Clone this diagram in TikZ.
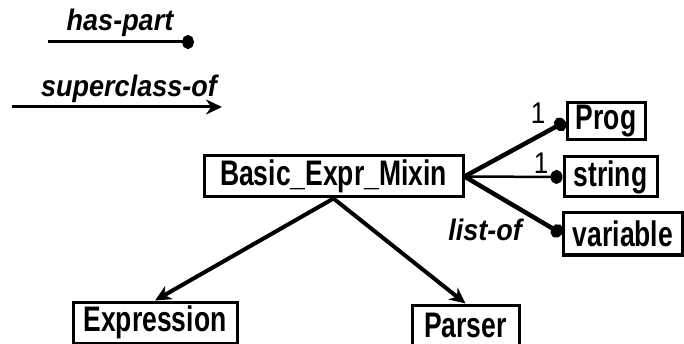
\documentclass[tikz,border=0pt]{standalone}
\usepackage{fontspec}
\setmainfont{Liberation Sans}
\usetikzlibrary{arrows.meta}
% class names are set in a tall, narrow style
\newcommand{\tallname}[1]{\scalebox{1}[1.34]{#1}}
\begin{document}
\begin{tikzpicture}[x=1pt,y=-1pt,
  classbox/.style={draw, line width=3pt, inner sep=0pt,
    font=\fontsize{26.5}{28}\selectfont\bfseries},
  partof/.style={line width=4.5pt, -{Circle[length=12pt,width=14pt]}},
  isa/.style={line width=4pt, -{Stealth[length=16pt,width=15pt]}},
  rolelabel/.style={font=\fontsize{27}{29}\selectfont\bfseries\itshape, inner sep=0pt},
  card/.style={font=\fontsize{26}{28}\selectfont, inner sep=0pt}]
\useasboundingbox (0,0) rectangle (684,344);

% legend
\node[rolelabel] (hplabel) at (120,23) {\scalebox{1}[1.1]{has-part}};
\coordinate (hpA) at (48,42);
\coordinate (hpB) at (194,42);
\draw[partof, line width=3pt] (hpA) -- (hpB);
\node[rolelabel] (sclabel) at (129,89) {\scalebox{1}[1.1]{superclass-of}};
\coordinate (scA) at (12,107);
\coordinate (scB) at (222,107);
\draw[isa, line width=3pt] (scA) -- (scB);

% classes
\node[classbox, minimum width=259pt, minimum height=41pt] (basic) at (333.5,176.5) {\tallname{Basic\_Expr\_Mixin}};
\node[classbox, minimum width=78pt, minimum height=37pt] (prog) at (606,121.5) {\tallname{Prog}};
\node[classbox, minimum width=93pt, minimum height=40pt] (string) at (610.5,177) {\tallname{string}};
\node[classbox, minimum width=119pt, minimum height=42pt] (variable) at (623,234) {\tallname{variable}};
\node[classbox, minimum width=164pt, minimum height=41pt] (expr) at (155,322.5) {\tallname{Expression}};
\node[classbox, minimum width=107pt, minimum height=41pt] (parser) at (465.5,325.5) {\tallname{Parser}};

% has-part connectors
\draw[partof] (basic.east) -- (prog.west);
\draw[partof, line width=2.5pt] (basic.east) -- (string.west);
\draw[partof] (basic.east) -- (variable.west);
\node[card] (c1) at (538,113) {\scalebox{1}[1.15]{1}};
\node[card] (c2) at (541,163) {\scalebox{1}[1.15]{1}};
\node[rolelabel] (listof) at (485,230) {\scalebox{1}[1.1]{list-of}};

% superclass-of connectors
\draw[isa] (basic.south) -- (expr.north);
\draw[isa] (basic.south) -- (parser.north);
\end{tikzpicture}
\end{document}
